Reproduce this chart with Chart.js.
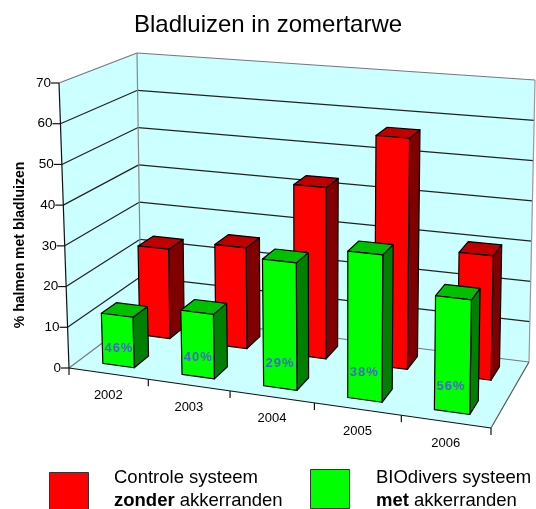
<!DOCTYPE html>
<html><head><meta charset="utf-8">
<style>html,body{margin:0;padding:0;background:#fff}canvas{display:block}</style>
<script src="https://cdn.jsdelivr.net/npm/chart.js@4"></script>
</head><body><div style="width:536px;height:509px"><canvas id="c" width="536" height="509"></canvas></div>
<script>
const categories=['2002','2003','2004','2005','2006'];
const controleValues=[23,25.5,42.7,56.7,30];
const biodiversValues=[12.4,15.6,30.3,34.4,26.3];
const percentLabels=['46%','40%','29%','38%','56%'];
const chartTitle='Bladluizen in zomertarwe';
const yTitle='% halmen met bladluizen';
const legendControle=[['Controle systeem'],['zonder',' akkerranden']];
const legendBiodivers=[['BIOdivers systeem'],['met',' akkerranden']];

const FF='"Liberation Sans",Arial,sans-serif';
// perspective box corners
const floorQ=[[69,368],[491,428],[529,362],[141,314]];
const topQ=[[59,83],[496,117],[535,80],[137,53]];
const depth=[[0.65,0.87],[0.135,0.335]];
const labelLift=[3.7,4.1,5.4,5.9,5.4];
function homog(q){
  const [x0,y0]=q[0],[x1,y1]=q[1],[x2,y2]=q[2],[x3,y3]=q[3];
  const dx1=x1-x2,dx2=x3-x2,dx3=x0-x1+x2-x3,dy1=y1-y2,dy2=y3-y2,dy3=y0-y1+y2-y3;
  const den=dx1*dy2-dx2*dy1,g=(dx3*dy2-dx2*dy3)/den,h=(dx1*dy3-dx3*dy1)/den;
  const a=x1-x0+g*x1,b=x3-x0+h*x3,d=y1-y0+g*y1,e=y3-y0+h*y3;
  return (u,v)=>{const w=g*u+h*v+1;return [(a*u+b*v+x0)/w,(d*u+e*v+y0)/w];};
}
const F0=homog(floorQ),T0=homog(topQ);
const warp=u=>(u+0.008*u*(categories.length-u))/categories.length;
const F=(u,v)=>F0(warp(u),v),T=(u,v)=>T0(warp(u),v);
function P(u,v,w){const f=F(u,v),t=T(u,v);return [f[0]+(t[0]-f[0])*w,f[1]+(t[1]-f[1])*w];}
function poly(ctx,pts,fill,stroke,lw){
  ctx.beginPath();pts.forEach((p,i)=>i?ctx.lineTo(p[0],p[1]):ctx.moveTo(p[0],p[1]));ctx.closePath();
  if(fill){ctx.fillStyle=fill;ctx.fill();}
  if(stroke){ctx.strokeStyle=stroke;ctx.lineWidth=lw||1;ctx.lineJoin='round';ctx.stroke();}
}
function line(ctx,a,b,c,lw){ctx.beginPath();ctx.moveTo(a[0],a[1]);ctx.lineTo(b[0],b[1]);ctx.strokeStyle=c;ctx.lineWidth=lw||1;ctx.stroke();}
function richLines(ctx,x,y,lines){
  ctx.textAlign='left';ctx.textBaseline='alphabetic';ctx.fillStyle='#000';
  lines.forEach((ln,i)=>{
    let cx=x;const yy=y+i*23;
    ln.forEach((s,j)=>{
      ctx.font=(i===1&&j===0?'bold ':'')+'18.5px '+FF;
      ctx.fillText(s,cx,yy);cx+=ctx.measureText(s).width;
    });
  });
}
const box3d={
  id:'box3d',
  beforeDatasetsDraw(chart){
    const ctx=chart.ctx,y=chart.scales.y,x=chart.scales.x;
    const frac=v=>(y.bottom-y.getPixelForValue(v))/(y.bottom-y.top);
    ctx.save();
    poly(ctx,[P(0,0,0),P(5,0,0),P(5,1,0),P(0,1,0)],'#CCFFFF');
    poly(ctx,[P(0,0,0),P(0,0,1),P(0,1,1),P(0,1,0)],'#CCFFFF');
    poly(ctx,[P(0,1,0),P(0,1,1),P(5,1,1),P(5,1,0)],'#CCFFFF');
    y.ticks.forEach(t=>{
      const w=frac(t.value);
      const edge=t.value===0||t.value===70;
      const c=edge?'#777':'#222';
      line(ctx,P(0,0,w),P(0,1,w),c,1.2);
      line(ctx,P(0,1,w),P(5,1,w),c,1.2);
    });
    line(ctx,P(0,1,0),P(0,1,1),'#888',1.2);
    line(ctx,P(5,1,0),P(5,1,1),'#999',1.2);
    line(ctx,P(5,0,0),P(5,1,0),'#555',1.2);
    line(ctx,P(0,0,0),P(0,0,1),'#111',1.2);
    line(ctx,P(0,0,0),P(5,0,0),'#111',1.2);
    // y ticks
    ctx.font='13.5px '+FF;ctx.fillStyle='#000';ctx.textAlign='right';ctx.textBaseline='middle';
    y.ticks.forEach(t=>{
      const p=P(0,0,frac(t.value));
      line(ctx,[p[0]-8,p[1]],p,'#111',1.2);
      ctx.fillText(String(t.value),p[0]-8,p[1]);
    });
    // x ticks
    for(let i=0;i<=categories.length;i++){
      const p=F(i,0);line(ctx,p,[p[0],p[1]+7],'#111',1.2);
    }
    ctx.font='13px '+FF;ctx.textAlign='center';
    categories.forEach((c,i)=>{
      const u=(x.getPixelForValue(i)-x.left)/(x.right-x.left)*categories.length;
      const p=F(u,0);
      ctx.fillText(c,p[0],p[1]+22);
    });
    ctx.restore();
  },
  beforeDatasetDraw(){return false;},
  afterDatasetsDraw(chart){
    const ctx=chart.ctx,xs=chart.scales.x,ys=chart.scales.y;
    const n=categories.length,U=px=>(px-xs.left)/(xs.right-xs.left)*n,W=py=>(ys.bottom-py)/(ys.bottom-ys.top);
    const shades=[['#FF0000','#C00000','#800000'],['#00FF00','#00C000','#008000']];
    ctx.save();
    [0,1].forEach(di=>{
      const meta=chart.getDatasetMeta(di),[v0,v1]=depth[di],[fr,tp,sd]=shades[di];
      meta.data.forEach(el=>{
        const u0=U(el.x-el.width/2),u1=U(el.x+el.width/2),w=W(el.y),b=W(el.base);
        poly(ctx,[P(u1,v0,b),P(u1,v1,b),P(u1,v1,w),P(u1,v0,w)],sd,'#000',1.2);
        poly(ctx,[P(u0,v0,w),P(u1,v0,w),P(u1,v1,w),P(u0,v1,w)],tp,'#000',1.2);
        poly(ctx,[P(u0,v0,b),P(u1,v0,b),P(u1,v0,w),P(u0,v0,w)],fr,'#000',1.2);
      });
    });
    const meta=chart.getDatasetMeta(1);
    ctx.font='bold 13px '+FF;ctx.fillStyle='#4466CC';ctx.textAlign='left';ctx.textBaseline='middle';
    ctx.letterSpacing='1px';
    meta.data.forEach((el,i)=>{
      const p=P(U(el.x-el.width/2),depth[1][0],labelLift[i]/70);
      ctx.fillText(percentLabels[i],p[0]+2,p[1]);
    });
    ctx.letterSpacing='0px';
    // legend
    poly(ctx,[[49.5,472.5],[88.5,472.5],[88.5,512],[49.5,512]],chart.data.datasets[0].backgroundColor,'#333');
    poly(ctx,[[310.5,469.5],[349.5,469.5],[349.5,508.5],[310.5,508.5]],chart.data.datasets[1].backgroundColor,'#333');
    richLines(ctx,114,483,legendControle);
    richLines(ctx,376,483,legendBiodivers);
    ctx.restore();
  }
};
new Chart(document.getElementById('c'),{
  type:'bar',
  data:{labels:categories,datasets:[
    {label:'Controle systeem zonder akkerranden',data:controleValues,backgroundColor:'#FF0000',grouped:false,barPercentage:0.4,categoryPercentage:1},
    {label:'BIOdivers systeem met akkerranden',data:biodiversValues,backgroundColor:'#00FF00',grouped:false,barPercentage:0.4,categoryPercentage:1}
  ]},
  plugins:[box3d],
  options:{
    responsive:false,animation:false,
    layout:{padding:{left:0,right:0,top:0,bottom:141}},
    plugins:{
      legend:{display:false},tooltip:{enabled:false},
      title:{display:true,text:chartTitle,color:'#000',font:{family:FF,size:24,weight:'normal'},padding:{top:11,bottom:82}}
    },
    scales:{
      x:{display:false,offset:true},
      y:{min:0,max:70,ticks:{stepSize:10,display:false},grid:{display:false},border:{display:false},
         title:{display:true,text:yTitle,color:'#000',font:{family:FF,size:14,weight:'bold'},padding:{top:12,bottom:0}}}
    }
  }
});
</script></body></html>
